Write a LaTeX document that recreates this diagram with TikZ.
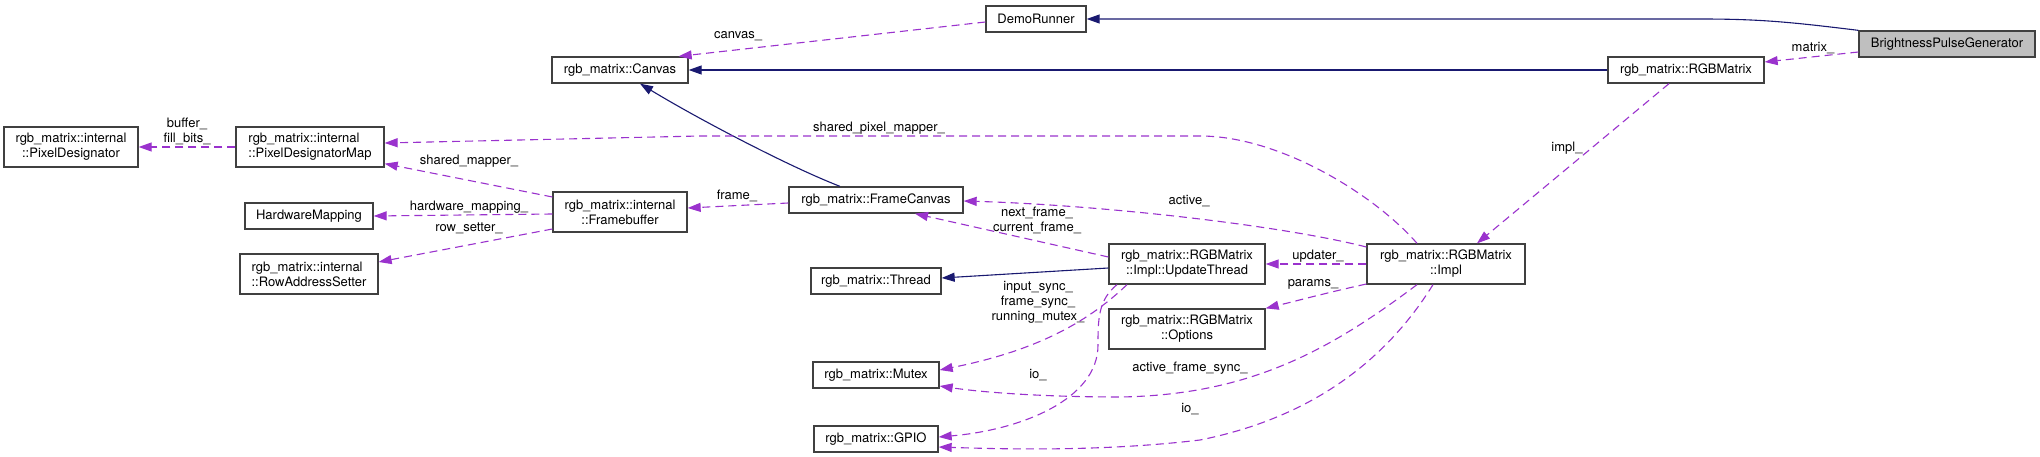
\documentclass[tikz,border=0pt]{standalone}
\usepackage{fontspec}
\setmainfont{TeX Gyre Heros}
\usepackage{xcolor}
\usepackage{tikz}
\usetikzlibrary{arrows.meta}
\definecolor{inhc}{HTML}{191970}
\definecolor{usec}{HTML}{9A32CD}
\definecolor{framec}{HTML}{404040}
\definecolor{hilite}{HTML}{BFBFBF}
\tikzset{
  cls/.style={draw=framec,line width=1.3pt,fill=white,minimum height=26pt,inner sep=0pt,align=center,font=\fontsize{13}{15}\selectfont},
  cls2/.style={cls,minimum height=40pt},
  inh/.style={-{Triangle[length=13pt,width=9pt]},line width=1.1pt,inhc},
  usg/.style={-{Triangle[length=13pt,width=9pt]},line width=1.1pt,usec,dash pattern=on 8pt off 5pt},
  lbl/.style={font=\fontsize{13}{15}\selectfont,align=center,inner sep=0pt}
}
\begin{document}
\begin{tikzpicture}[x=1pt,y=-1pt]
\useasboundingbox (0,0) rectangle (2040,457);
% classes
\node[cls,fill=hilite,minimum width=176pt] (bpg) at (1947,44) {BrightnessPulseGenerator};
\node[cls,minimum width=100pt] (demo) at (1036,19) {DemoRunner};
\node[cls,minimum width=136pt] (canvas) at (620,70) {rgb\_matrix::Canvas};
\node[cls,minimum width=156pt] (rgbm) at (1686,70) {rgb\_matrix::RGBMatrix};
\node[cls2,minimum width=134pt] (pd) at (71,147) {rgb\_matrix::internal\\::PixelDesignator};
\node[cls2,minimum width=148pt,align=left] (pdm) at (310,147) {rgb\_matrix::internal\\::PixelDesignatorMap};
\node[cls,minimum width=128pt] (hwm) at (309,216) {HardwareMapping};
\node[cls2,minimum width=134pt] (fb) at (620,212) {rgb\_matrix::internal\\::Framebuffer};
\node[cls2,minimum width=138pt,align=left] (ras) at (309,274) {rgb\_matrix::internal\\::RowAddressSetter};
\node[cls,minimum width=174pt] (fcanvas) at (876,200) {rgb\_matrix::FrameCanvas};
\node[cls,minimum width=130pt] (thread) at (876,281) {rgb\_matrix::Thread};
\node[cls2,minimum width=156pt] (upd) at (1187,264) {rgb\_matrix::RGBMatrix\\::Impl::UpdateThread};
\node[cls2,minimum width=156pt] (opts) at (1187,329) {rgb\_matrix::RGBMatrix\\::Options};
\node[cls,minimum width=126pt] (mutex) at (876,375) {rgb\_matrix::Mutex};
\node[cls,minimum width=124pt] (gpio) at (876,439) {rgb\_matrix::GPIO};
\node[cls2,minimum width=158pt] (impl) at (1446,264) {rgb\_matrix::RGBMatrix\\::Impl};
% inheritance
\draw[inh] (bpg.north west) .. controls (1790,22) and (1760,19) .. (1700,19) -- (demo.east);
\draw[inh] (rgbm.west) -- (canvas.east);
\draw[inh] ([xshift=-36pt]fcanvas.north) .. controls (790,167) and (700,120) .. ([xshift=20pt]canvas.south);
\draw[inh] ([yshift=-4pt]upd.west) -- ([yshift=3pt]thread.east);
% members
\draw[usg] ([yshift=-8pt]bpg.west) -- ([yshift=8pt]rgbm.east);
\node[lbl] (l-matrix) at (1813,48) {matrix\_};
\draw[usg] ([yshift=-3pt]demo.west) -- ([xshift=-10pt]canvas.north east);
\node[lbl] (l-canvas) at (738,36) {canvas\_};
\draw[usg] ([xshift=-17pt]rgbm.south) -- ([xshift=31pt]impl.north);
\node[lbl] (l-impl) at (1567,148) {impl\_};
\draw[usg] ([xshift=-29pt]impl.north) .. controls (1375,195) and (1280,136) .. (1200,136) -- (700,136) -- ([yshift=4pt]pdm.east);
\node[lbl] (l-spm) at (879,128) {shared\_pixel\_mapper\_};
\draw[usg] (pdm.west) -- (pd.east);
\node[lbl] (l-buf) at (187,131) {buffer\_\\fill\_bits\_};
\draw[usg] ([yshift=15pt]fb.west) -- ([yshift=4pt]pdm.south east);
\node[lbl] (l-sm) at (469,161) {shared\_mapper\_};
\draw[usg] ([yshift=-2pt]fb.west) -- (hwm.east);
\node[lbl] (l-hw) at (469,207) {hardware\_mapping\_};
\draw[usg] ([yshift=-17pt]fb.west) -- ([yshift=12pt]ras.east);
\node[lbl] (l-row) at (469,228) {row\_setter\_};
\draw[usg] ([yshift=-3pt]fcanvas.west) -- ([yshift=4pt]fb.east);
\node[lbl] (l-frame) at (737,196) {frame\_};
\draw[usg] ([yshift=17pt]impl.west) .. controls (1280,225) and (1100,205) .. ([yshift=-1pt]fcanvas.east);
\node[lbl] (l-active) at (1189,201) {active\_};
\draw[usg] ([yshift=7pt]upd.west) -- ([xshift=39pt]fcanvas.south);
\node[lbl] (l-next) at (1037,220) {next\_frame\_\\current\_frame\_};
\draw[usg] (impl.west) -- (upd.east);
\node[lbl] (l-upd) at (1318,256) {updater\_};
\draw[usg] ([yshift=-20pt]impl.west) .. controls (1330,292) and (1300,300) .. (opts.north east);
\node[lbl] (l-params) at (1313,284) {params\_};
\draw[usg] ([xshift=-60pt]upd.south) .. controls (1090,320) and (1040,350) .. ([yshift=5pt]mutex.east);
\node[lbl] (l-sync) at (1038,302) {input\_sync\_\\frame\_sync\_\\running\_mutex\_};
\draw[usg] ([xshift=-70pt]upd.south) .. controls (1098,300) and (1098,320) .. (1098,345) .. controls (1098,400) and (1020,430) .. ([yshift=2pt]gpio.east);
\node[lbl] (l-io1) at (1038,375) {io\_};
\draw[usg] ([xshift=-29pt]impl.south) .. controls (1330,350) and (1250,395) .. (1120,397) .. controls (1040,397) and (980,392) .. ([yshift=-11pt]mutex.east);
\node[lbl] (l-afs) at (1190,368) {active\_frame\_sync\_};
\draw[usg] ([xshift=-13pt]impl.south) .. controls (1380,370) and (1300,420) .. (1200,440) .. controls (1100,452) and (1000,449) .. ([yshift=-8pt]gpio.east);
\node[lbl] (l-io2) at (1190,409) {io\_};
\end{tikzpicture}
\end{document}
